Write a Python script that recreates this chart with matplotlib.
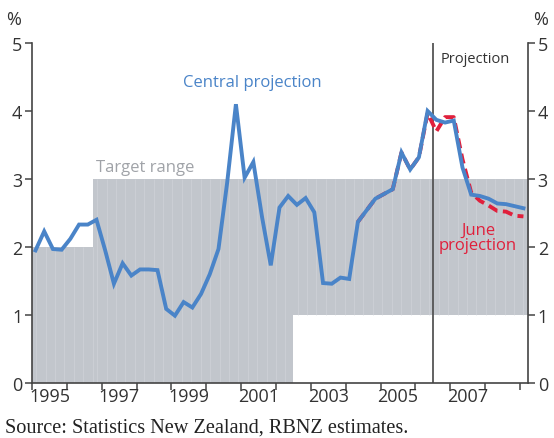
import matplotlib
matplotlib.use("Agg")
import matplotlib.pyplot as plt
import numpy as np

# ---- data ----
start_year = 1995.1          # first quarterly observation
central = [1.95, 2.23, 1.97, 1.96, 2.12, 2.33, 2.33, 2.40, 1.95, 1.46,
           1.76, 1.58, 1.67, 1.67, 1.66, 1.09, 0.99, 1.19, 1.11, 1.31,
           1.60, 1.97, 2.95, 4.10, 3.02, 3.25, 2.44, 1.73, 2.58, 2.75,
           2.62, 2.72, 2.51, 1.47, 1.46, 1.55, 1.53, 2.37, 2.54, 2.71,
           2.78, 2.85, 3.39, 3.14, 3.32, 4.00, 3.87, 3.83, 3.86, 3.17,
           2.77, 2.75, 2.71, 2.64, 2.63, 2.60, 2.57]
june_start_index = 37
june = [2.37, 2.54, 2.71, 2.78, 2.85, 3.39, 3.14, 3.32, 3.97, 3.70,
        3.91, 3.91, 3.29, 2.80, 2.68, 2.61, 2.53, 2.52, 2.46, 2.45]
# target range: boundaries and (low, high)
target_edges = [1995.0, 1996.75, 2002.5, 2009.25]
target_low = [0, 0, 1]
target_high = [2, 3, 3]
projection_start = 2006.5
year_labels = [1995, 1997, 1999, 2001, 2003, 2005, 2007]
y_ticks = [0, 1, 2, 3, 4, 5]

x_central = start_year + 0.25 * np.arange(len(central))
x_june = start_year + 0.25 * (june_start_index + np.arange(len(june)))

sans = ["Open Sans", "DejaVu Sans"]
plt.rcParams["font.family"] = sans

fig = plt.figure(figsize=(5.54, 4.39), dpi=100)
ax = fig.add_axes([32/554, 1 - 384/439, (528-32)/554, (384-44)/439])
ax.set_xlim(1995.0, 2009.23)
ax.set_ylim(0, 5)

gray = "#c2c6cc"
for i in range(len(target_low)):
    x0, x1 = target_edges[i], target_edges[i+1]
    ax.fill_between([x0, x1], target_low[i], target_high[i], color=gray, lw=0, zorder=1)
    # faint vertical streak texture
    xs = np.arange(x0 + 0.12, x1, 0.27)
    ax.vlines(xs, target_low[i], target_high[i], color="#d2d5da", lw=0.7, alpha=0.6, zorder=1.1)

ax.axvline(projection_start, color="#555555", lw=1.3, zorder=2)

ax.plot(x_june, june, color="#e0203c", lw=2.8, ls=(0, (2.6, 1.4)), zorder=3)
ax.plot(x_central, central, color="#4a84c8", lw=2.8, zorder=4, solid_joinstyle="miter")

ax.spines["top"].set_visible(False)
for s in ["left", "right", "bottom"]:
    ax.spines[s].set_color("#444444")
    ax.spines[s].set_linewidth(1.2)

ax.set_yticks(y_ticks)
ax.tick_params(axis="y", which="both", left=True, right=True, labelleft=True, labelright=True,
               direction="out", length=5, width=1.1, color="#444444",
               labelsize=13, labelcolor="#333333", pad=2)
major_years = np.arange(1995, 2010)
ax.set_xticks(major_years)
ax.set_xticklabels([])
ax.set_xticks([y + 0.5 for y in year_labels], minor=True)
ax.set_xticklabels([str(y) for y in year_labels], minor=True)
ax.tick_params(axis="x", which="major", direction="out", length=5, width=1.1, color="#444444")
ax.tick_params(axis="x", which="minor", length=0, labelsize=13, labelcolor="#333333", pad=3)

fig.text(14/554, 1 - 20/439, "%", ha="center", va="center", fontsize=13, color="#333333")
fig.text(541/554, 1 - 20/439, "%", ha="center", va="center", fontsize=13, color="#333333")

ax.text(1996.85, 3.17, "Target range", fontsize=12, color="#a0a3a8", ha="left", va="center")
ax.text(2001.31, 4.42, "Central projection", fontsize=12, color="#4a84c8", ha="center", va="center")
ax.text(2007.72, 4.77, "Projection", fontsize=10.5, color="#333333", ha="center", va="center")
ax.text(2007.8, 2.14, "June\nprojection", fontsize=12, color="#e0203c", ha="center", va="center",
        linespacing=1.0)

fig.text(5/554, 1 - 428/439, "Source: Statistics New Zealand, RBNZ estimates.",
         family=["Liberation Serif", "DejaVu Serif"], fontsize=14.6, color="#222222",
         ha="left", va="center")

fig.savefig("out.png", dpi=100)
